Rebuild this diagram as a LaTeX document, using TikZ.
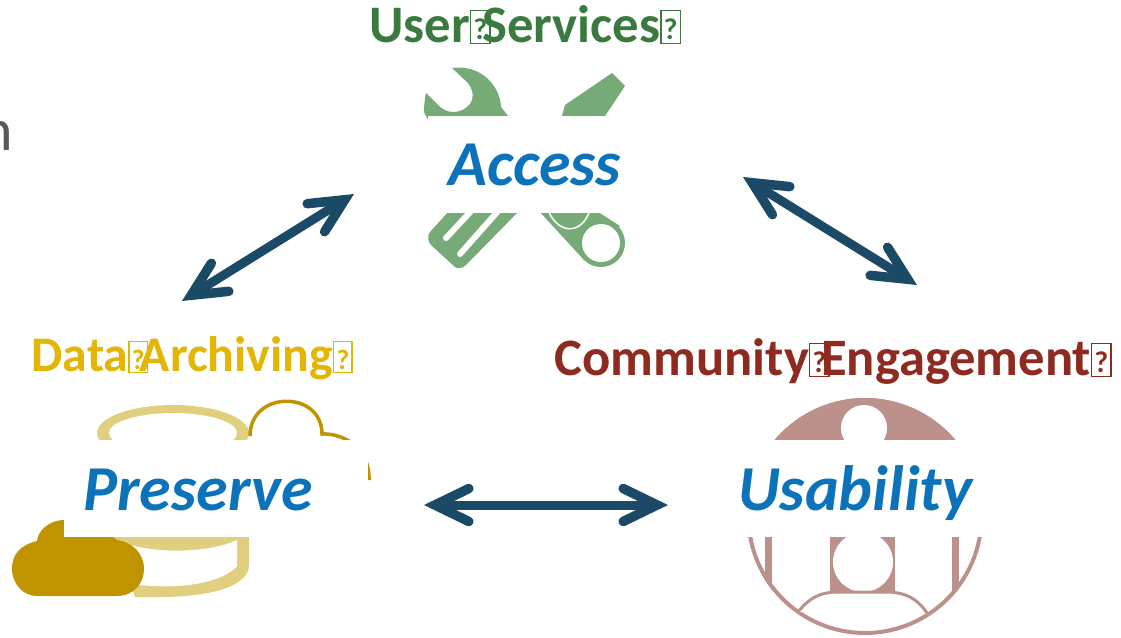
\documentclass[tikz,border=0pt]{standalone}
\usepackage{fontspec}
\usepackage{graphicx}
\setmainfont{Carlito}
\usetikzlibrary{arrows.meta}
\definecolor{grn}{HTML}{3B7A3F}
\definecolor{grnl}{HTML}{76AB78}
\definecolor{gld}{HTML}{E3B505}
\definecolor{gldd}{HTML}{C09400}
\definecolor{gldl}{HTML}{E1CF80}
\definecolor{rd}{HTML}{8E2A20}
\definecolor{rdl}{HTML}{BC918C}
\definecolor{blu}{HTML}{0C72BA}
\definecolor{arr}{HTML}{1A4A66}
\definecolor{gry}{HTML}{595959}
\newcommand\tofu[1]{\rlap{\raisebox{-.02em}{\setlength\fboxsep{0pt}\setlength\fboxrule{1.3pt}\fbox{\makebox[.34em][c]{\rule{0pt}{.6em}\raisebox{.06em}{\fontsize{#1}{#1}\selectfont ?}}}}}\kern.23em\relax}
\tikzset{
  head/.style={font=\bfseries\fontsize{#1}{#1}\selectfont,inner sep=0pt,anchor=base},
  word/.style={text=blu,font=\bfseries\itshape\fontsize{64}{64}\selectfont,inner sep=0pt,anchor=base},
  twoway/.style={draw=arr,line width=9pt,{Straight Barb[length=34pt,width=33pt,line width=9.5pt,line cap=round,line join=miter]}-{Straight Barb[length=34pt,width=33pt,line width=9.5pt,line cap=round,line join=miter]}},
  mask/.style={fill=white,draw=none}
}
\begin{document}
\begin{tikzpicture}[x=1pt,y=-1pt]
\useasboundingbox (0,0) rectangle (1121,637);
\clip (0,0) rectangle (1121,637);
% cut-off letter
\node[font=\fontsize{60}{60}\selectfont,text=gry,inner sep=0pt,anchor=base east] (frag) at (13,150) {n};
% tools icon
\fill[grnl] (452,68) .. controls (480,64) and (500,85) .. (501,107) -- (508,116) -- (428,120) -- (424,112) .. controls (424,104) and (425,98) .. (426,93) -- (440,107) .. controls (450,115) and (462,113) .. (470,104) .. controls (475,96) and (472,88) .. (468,83) -- cycle;
\fill[grnl] (612,73) -- (625,86) -- (605,116) -- (562,116) -- (565,105) -- cycle;
\fill[grnl] (520,210) -- (466,265) .. controls (462,269) and (458,269) .. (455,267) -- (431,245) .. controls (428,242) and (427,236) .. (430,232) -- (450,210) -- cycle;
\draw[white,line width=6pt,line cap=round] (446,238) -- (474,208);
\draw[white,line width=6pt,line cap=round] (460,254) -- (499,210);
\fill[grnl] (538,210) -- (584,260) -- (620,226) -- (595,210) -- cycle;
\fill[grnl] (601,243) circle (24);
\fill[white] (601,243) circle (19);
\draw[white,line width=1.5pt] (548,210) .. controls (558,235) and (582,235) .. (590,210);
% database and clouds
\fill[gldl] (173,433) ellipse (76 and 28);
\fill[white] (173,433) ellipse (64 and 20);
\fill[gldl] (115,537) -- (249,537) -- (249,565) .. controls (249,588) and (205,597) .. (160,597) -- (135,597) -- cycle;
\fill[white] (120,541) .. controls (145,553) and (205,555) .. (237,540) -- (237,566) .. controls (225,580) and (190,590) .. (140,585) -- (110,560) -- cycle;
\draw[gldd,line width=3.5pt] (250,436) .. controls (250,390) and (322,390) .. (322,434) .. controls (340,433) and (370,445) .. (369,480);
\fill[gldd] (64,520) .. controls (50,520) and (38,530) .. (37,541) .. controls (20,545) and (12,555) .. (12,568) .. controls (12,585) and (24,596) .. (37,596) -- (117,596) .. controls (134,596) and (144,583) .. (144,569) .. controls (144,553) and (132,542) .. (117,540) -- (100,525) -- cycle;
% community icon
\begin{scope}
\clip (865,516.5) circle (118.5);
\fill[rdl] (700,398) rectangle (1000,445);
\fill[white] (864,428) circle (23);
\fill[rdl] (765,530) rectangle (772,600);
\fill[rdl] (952,530) rectangle (959,600);
\fill[rdl] (830,530) rectangle (895,595);
\fill[white] (863,562) circle (30);
\end{scope}
\draw[rdl,line width=4pt] (865,516.5) circle (116.5);
\draw[rdl,line width=3pt,fill=white] (798,612) .. controls (810,597) and (820,593) .. (835,592) -- (890,592) .. controls (905,593) and (917,598) .. (927,613);
% masks
\fill[mask] (428,116) rectangle (640,213);
\fill[mask] (64,440) rectangle (368,537);
\fill[mask] (740,440) rectangle (990,537);
% headings
\node[head=52.7,text=grn] (svc) at (521,42) {User\tofu{30}Services\tofu{30}};
\node[head=49.8,text=gld] (arc) at (188,371) {Data\tofu{28}Archiving\tofu{28}};
\node[head=52.6,text=rd] (eng) at (829,375) {Community\tofu{30}Engagement\tofu{30}};
% words
\node[word] (access) at (535,185) {Access};
\node[word] (preserve) at (198,510) {Preserve};
\node[word] (usability) at (855,510) {Usability};
% connectors
\coordinate (a1) at (182,301);
\coordinate (a2) at (354,194);
\coordinate (b1) at (743,177);
\coordinate (b2) at (917,285);
\coordinate (c1) at (424,505);
\coordinate (c2) at (668,505);
\draw[twoway] (a1) -- (a2);
\draw[twoway] (b1) -- (b2);
\draw[twoway] (c1) -- (c2);
\end{tikzpicture}
\end{document}
